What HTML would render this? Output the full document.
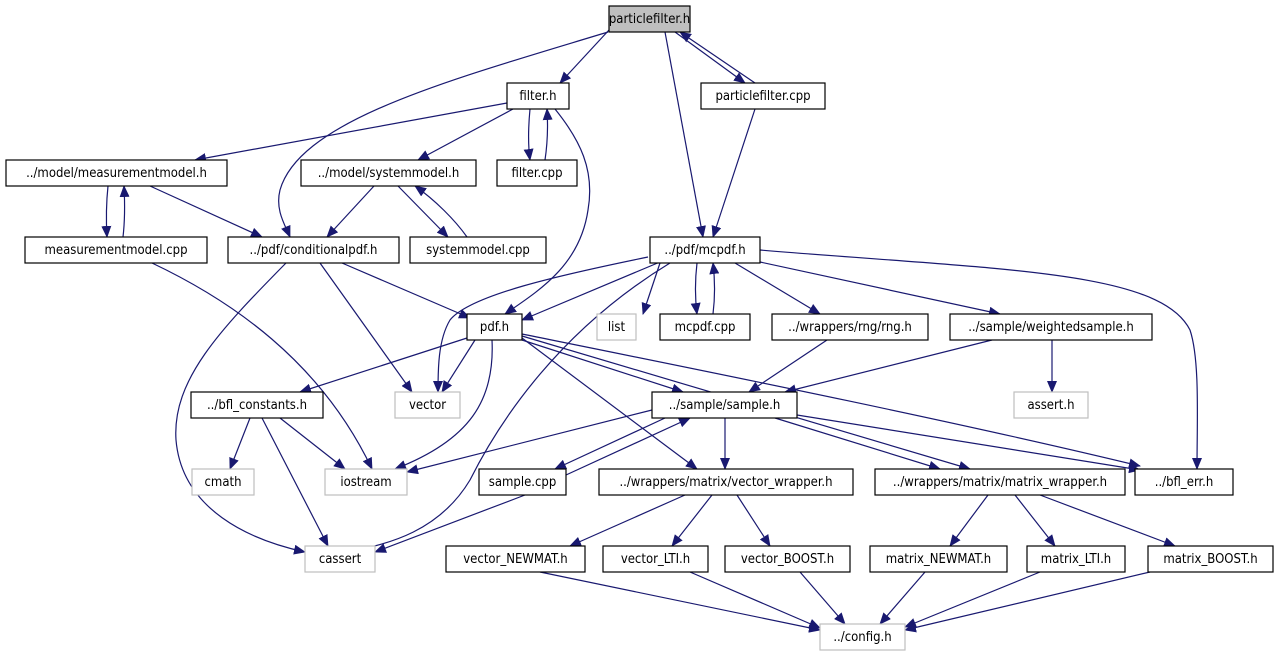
<!DOCTYPE html>
<html><head><meta charset="utf-8"><style>
html,body{margin:0;padding:0;background:#fff;}
svg{display:block;}
text{font-family:"DejaVu Sans Condensed","Liberation Sans",sans-serif;font-size:13px;fill:#000;}
</style></head><body>
<svg width="1280" height="659" viewBox="0 0 1280 659" xmlns="http://www.w3.org/2000/svg">
<defs>
<marker id="a" markerWidth="12" markerHeight="10" refX="11" refY="5" orient="auto" markerUnits="userSpaceOnUse">
<path d="M0,0 L12,5 L0,10 z" fill="#191970"/>
</marker>
</defs>
<g stroke="#191970" stroke-width="1.2" fill="none" marker-end="url(#a)">
<path d="M609,30 L560,83"/>
<path d="M608,32 C450,80 300,120 280,190 C275,210 285,225 290,237"/>
<path d="M665,32 L703,237"/>
<path d="M675,32 L745,83"/>
<path d="M755,83 L680,32"/>
<path d="M755,109 L713,237"/>
<path d="M507,103 L195,160"/>
<path d="M513,109 L418,160"/>
<path d="M530,109 C528,130 528,145 530,160"/>
<path d="M545,160 C548,140 548,125 547,109"/>
<path d="M555,109 C580,140 595,170 588,210 C580,265 540,290 505,314"/>
<path d="M108,186 C106,205 106,220 107,237"/>
<path d="M123,237 C125,220 125,205 124,186"/>
<path d="M150,186 L262,237"/>
<path d="M374,186 L327,237"/>
<path d="M398,186 L448,237"/>
<path d="M467,237 C455,220 435,200 415,186"/>
<path d="M152,263 C230,300 320,360 372,469"/>
<path d="M286,263 C220,330 172,380 176,440 C182,510 250,540 305,552"/>
<path d="M320,263 L412,392"/>
<path d="M342,263 L470,318"/>
<path d="M660,262 L522,320"/>
<path d="M648,257 C560,275 470,295 450,320 C438,340 438,370 438,392"/>
<path d="M670,263 C560,330 500,420 470,480 C440,530 390,545 345,552"/>
<path d="M660,263 L643,314"/>
<path d="M697,263 C695,280 695,298 697,314"/>
<path d="M713,314 C715,298 715,280 713,263"/>
<path d="M735,263 L820,314"/>
<path d="M760,262 L1000,314"/>
<path d="M760,250 C1000,270 1160,270 1190,330 C1200,360 1197,420 1197,469"/>
<path d="M467,338 L300,392"/>
<path d="M475,340 L442,392"/>
<path d="M492,340 C495,400 470,440 395,469"/>
<path d="M522,340 L683,392"/>
<path d="M522,338 L697,469"/>
<path d="M522,336 L970,469"/>
<path d="M522,334 C700,370 950,420 1140,466"/>
<path d="M827,340 L749,392"/>
<path d="M992,340 L785,392"/>
<path d="M1052,340 L1052,392"/>
<path d="M250,418 L230,469"/>
<path d="M280,418 L345,469"/>
<path d="M262,418 L328,546"/>
<path d="M652,410 L407,472"/>
<path d="M665,418 L555,469"/>
<path d="M566,475 L690,418"/>
<path d="M725,418 L725,469"/>
<path d="M775,418 L940,469"/>
<path d="M797,415 L1140,470"/>
<path d="M525,495 L375,552"/>
<path d="M685,495 L570,546"/>
<path d="M712,495 L672,546"/>
<path d="M737,495 L770,546"/>
<path d="M988,495 L950,546"/>
<path d="M1015,495 L1055,546"/>
<path d="M1040,495 L1175,546"/>
<path d="M540,572 L820,630"/>
<path d="M690,572 L820,628"/>
<path d="M800,572 L845,624"/>
<path d="M925,572 L880,624"/>
<path d="M1040,572 L905,627"/>
<path d="M1150,572 L905,630"/>
</g>
<g stroke-width="1.2">
<rect x="609" y="6" width="81" height="26" fill="#bfbfbf" stroke="#000"/>
<rect x="507" y="83" width="62" height="26" fill="#fff" stroke="#000"/>
<rect x="701" y="83" width="124" height="26" fill="#fff" stroke="#000"/>
<rect x="6" y="160" width="221" height="26" fill="#fff" stroke="#000"/>
<rect x="301" y="160" width="175" height="26" fill="#fff" stroke="#000"/>
<rect x="497" y="160" width="80" height="26" fill="#fff" stroke="#000"/>
<rect x="25" y="237" width="182" height="26" fill="#fff" stroke="#000"/>
<rect x="228" y="237" width="171" height="26" fill="#fff" stroke="#000"/>
<rect x="410" y="237" width="136" height="26" fill="#fff" stroke="#000"/>
<rect x="650" y="237" width="110" height="26" fill="#fff" stroke="#000"/>
<rect x="467" y="314" width="55" height="26" fill="#fff" stroke="#000"/>
<rect x="597" y="314" width="39" height="26" fill="#fff" stroke="#bfbfbf"/>
<rect x="660" y="314" width="90" height="26" fill="#fff" stroke="#000"/>
<rect x="772" y="314" width="156" height="26" fill="#fff" stroke="#000"/>
<rect x="950" y="314" width="202" height="26" fill="#fff" stroke="#000"/>
<rect x="191" y="392" width="132" height="26" fill="#fff" stroke="#000"/>
<rect x="395" y="392" width="65" height="26" fill="#fff" stroke="#bfbfbf"/>
<rect x="652" y="392" width="145" height="26" fill="#fff" stroke="#000"/>
<rect x="1014" y="392" width="74" height="26" fill="#fff" stroke="#bfbfbf"/>
<rect x="192" y="469" width="62" height="26" fill="#fff" stroke="#bfbfbf"/>
<rect x="325" y="469" width="82" height="26" fill="#fff" stroke="#bfbfbf"/>
<rect x="479" y="469" width="87" height="26" fill="#fff" stroke="#000"/>
<rect x="599" y="469" width="254" height="26" fill="#fff" stroke="#000"/>
<rect x="875" y="469" width="250" height="26" fill="#fff" stroke="#000"/>
<rect x="1135" y="469" width="98" height="26" fill="#fff" stroke="#000"/>
<rect x="305" y="546" width="70" height="26" fill="#fff" stroke="#bfbfbf"/>
<rect x="446" y="546" width="139" height="26" fill="#fff" stroke="#000"/>
<rect x="603" y="546" width="105" height="26" fill="#fff" stroke="#000"/>
<rect x="725" y="546" width="125" height="26" fill="#fff" stroke="#000"/>
<rect x="870" y="546" width="137" height="26" fill="#fff" stroke="#000"/>
<rect x="1027" y="546" width="98" height="26" fill="#fff" stroke="#000"/>
<rect x="1148" y="546" width="125" height="26" fill="#fff" stroke="#000"/>
<rect x="820" y="624" width="85" height="26" fill="#fff" stroke="#bfbfbf"/>
</g>
<g text-anchor="middle">
<text x="649.5" y="23">particlefilter.h</text>
<text x="538" y="100">filter.h</text>
<text x="763" y="100">particlefilter.cpp</text>
<text x="116.5" y="177">../model/measurementmodel.h</text>
<text x="388.5" y="177">../model/systemmodel.h</text>
<text x="537" y="177">filter.cpp</text>
<text x="116" y="254">measurementmodel.cpp</text>
<text x="313.5" y="254">../pdf/conditionalpdf.h</text>
<text x="478" y="254">systemmodel.cpp</text>
<text x="705" y="254">../pdf/mcpdf.h</text>
<text x="494.5" y="331">pdf.h</text>
<text x="616.5" y="331">list</text>
<text x="705" y="331">mcpdf.cpp</text>
<text x="850" y="331">../wrappers/rng/rng.h</text>
<text x="1051" y="331">../sample/weightedsample.h</text>
<text x="257" y="409">../bfl_constants.h</text>
<text x="427.5" y="409">vector</text>
<text x="724.5" y="409">../sample/sample.h</text>
<text x="1051" y="409">assert.h</text>
<text x="223" y="486">cmath</text>
<text x="366" y="486">iostream</text>
<text x="522.5" y="486">sample.cpp</text>
<text x="726" y="486">../wrappers/matrix/vector_wrapper.h</text>
<text x="1000" y="486">../wrappers/matrix/matrix_wrapper.h</text>
<text x="1184" y="486">../bfl_err.h</text>
<text x="340" y="563">cassert</text>
<text x="515.5" y="563">vector_NEWMAT.h</text>
<text x="655.5" y="563">vector_LTI.h</text>
<text x="787.5" y="563">vector_BOOST.h</text>
<text x="938.5" y="563">matrix_NEWMAT.h</text>
<text x="1076" y="563">matrix_LTI.h</text>
<text x="1210.5" y="563">matrix_BOOST.h</text>
<text x="862.5" y="641">../config.h</text>
</g>
</svg>
</body></html>
